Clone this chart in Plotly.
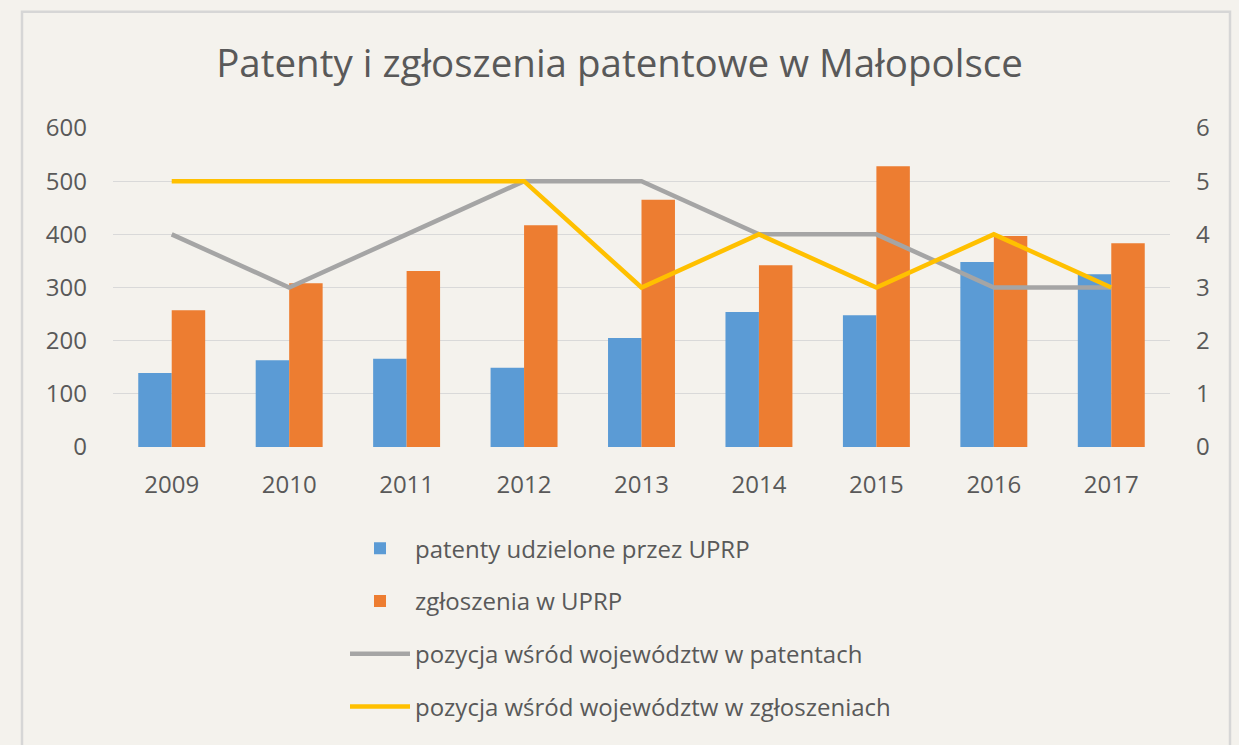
import plotly.graph_objects as go

years = ["2009", "2010", "2011", "2012", "2013", "2014", "2015", "2016", "2017"]
patenty = [139, 163, 166, 149, 205, 254, 248, 348, 325]
zgloszenia = [257, 308, 331, 417, 465, 342, 528, 397, 383]
poz_patenty = [4, 3, 4, 5, 5, 4, 4, 3, 3]
poz_zgloszenia = [5, 5, 5, 5, 3, 4, 3, 4, 3]

names = [
    "patenty udzielone przez UPRP",
    "zgłoszenia w UPRP",
    "pozycja wśród województw w patentach",
    "pozycja wśród województw w zgłoszeniach",
]

FONT = "Open Sans"
TXT = "#595959"
BG = "#f4f2ed"

fig = go.Figure()
fig.add_trace(go.Bar(x=years, y=patenty, name=names[0], marker_color="#5b9bd5",
                     marker_line_width=0, legendgroup="a"))
fig.add_trace(go.Bar(x=years, y=zgloszenia, name=names[1], marker_color="#ed7d31",
                     marker_line_width=0, legendgroup="b"))
fig.add_trace(go.Scatter(x=years, y=poz_patenty, name=names[2], mode="lines",
                         line=dict(color="#a5a5a5", width=4.5), yaxis="y2", legendgroup="c"))
fig.add_trace(go.Scatter(x=years, y=poz_zgloszenia, name=names[3], mode="lines",
                         line=dict(color="#ffc000", width=4.5), yaxis="y2", legendgroup="d"))

L, R, T, B = 113, 1170, 128.3, 447.3
W, H = R - L, B - T

def px(x):
    return (x - L) / W

def py(y):
    return (B - y) / H

fig.update_layout(
    width=1239, height=745,
    margin=dict(l=L, r=1239 - R, t=T, b=745 - B, pad=0),
    paper_bgcolor=BG, plot_bgcolor=BG,
    font=dict(family=FONT, color=TXT, size=24),
    title=dict(text="Patenty i zgłoszenia patentowe w Małopolsce",
               font=dict(family=FONT, size=38.5, color=TXT),
               x=0.5, xanchor="center", y=1 - 64 / 745, yanchor="middle"),
    barmode="group", bargap=0.43, bargroupgap=0,
    xaxis=dict(showgrid=False, showline=False, ticks="", zeroline=False,
               tickfont=dict(size=24, color=TXT), ticklabelstandoff=21),
    yaxis=dict(range=[0, 600], dtick=100, showgrid=True, gridcolor="#d9d9d9",
               gridwidth=1, zeroline=False, showline=False, ticks="",
               tickfont=dict(size=24, color=TXT), ticklabelstandoff=25),
    yaxis2=dict(range=[0, 6], dtick=1, overlaying="y", side="right",
                showgrid=False, zeroline=False, showline=False, ticks="",
                tickfont=dict(size=24, color=TXT), ticklabelstandoff=25),
    showlegend=True,
    legend=dict(orientation="v", x=px(345), xanchor="left", y=py(526.5), yanchor="top",
                font=dict(size=24, color=TXT), tracegroupgap=18.5,
                bgcolor="rgba(0,0,0,0)", itemwidth=60),
    shapes=[dict(type="rect", xref="paper", yref="paper",
                 x0=px(22), x1=px(1230), y0=py(12), y1=py(760),
                 line=dict(color="#d6d6d6", width=2.5), fillcolor="rgba(0,0,0,0)",
                 layer="below")],
)

fig.write_html("out.html")
